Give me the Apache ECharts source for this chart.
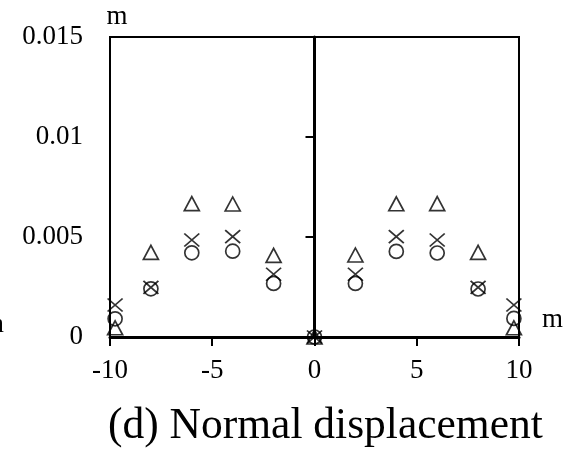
<!DOCTYPE html>
<html>
<head>
<meta charset="utf-8">
<script src="https://cdn.jsdelivr.net/npm/echarts@6/dist/echarts.min.js"></script>
<style>
  html, body { margin: 0; padding: 0; background: #fff; }
  #chart { width: 566px; height: 461px; }
</style>
</head>
<body>
<div id="chart"></div>
<script>
// Positions along the section (m)
var positions = [-9.75, -8, -6, -4, -2, 0, 2, 4, 6, 8, 9.75];
// Normal displacement (m) for the three cases
var triangleValues = [0.00046, 0.00423, 0.00667, 0.00665, 0.00408, 0, 0.00410, 0.00666, 0.00667, 0.00423, 0.00046];
var crossValues    = [0.00160, 0.00248, 0.00485, 0.00502, 0.00314, 0, 0.00314, 0.00502, 0.00485, 0.00248, 0.00160];
var circleValues   = [0.00091, 0.00241, 0.00421, 0.00429, 0.00268, 0, 0.00268, 0.00428, 0.00420, 0.00240, 0.00093];

var xTicks = { min: -10, max: 10, step: 5 };
var yTicks = { min: 0, max: 0.015, step: 0.005 };

var FONT = '"Liberation Serif", "Times New Roman", serif';

function pairs(vals) {
  return positions.map(function (x, i) { return [x, vals[i]]; });
}

var hollow = { color: 'rgba(0,0,0,0)', borderColor: '#000', borderWidth: 1.7 };

var chart = echarts.init(document.getElementById('chart'), null, { renderer: 'canvas' });
chart.setOption({
  animation: false,
  backgroundColor: '#fff',
  title: {
    text: '(d) Normal displacement',
    left: 108,
    top: 405,
    padding: 0,
    textStyle: { fontFamily: FONT, fontSize: 43.5, fontWeight: 'normal', color: '#000' }
  },
  grid: {
    left: 110, right: 45, top: 37, bottom: 124,
    containLabel: false,
    show: true, borderColor: '#000', borderWidth: 2, backgroundColor: 'transparent'
  },
  xAxis: {
    type: 'value',
    min: xTicks.min, max: xTicks.max, interval: xTicks.step,
    name: 'm',
    nameLocation: 'end',
    nameGap: 23,
    nameTextStyle: { fontFamily: FONT, fontSize: 27, color: '#000', verticalAlign: 'bottom', lineHeight: 27, padding: [0, 0, 4, 0] },
    axisLine: { show: true, onZero: true, lineStyle: { color: '#000', width: 3 } },
    axisTick: { show: true, length: 9, lineStyle: { color: '#000', width: 2 } },
    axisLabel: { fontFamily: FONT, fontSize: 27, color: '#000', margin: 20 },
    splitLine: { show: false }
  },
  yAxis: [
    {
      type: 'value',
      position: 'left',
      min: yTicks.min, max: yTicks.max, interval: yTicks.step,
      name: 'm',
      nameLocation: 'end',
      nameGap: 7,
      nameTextStyle: { fontFamily: FONT, fontSize: 27, color: '#000', padding: [0, 0, 0, 14] },
      axisLine: { show: true, onZero: false, lineStyle: { color: '#000', width: 2 } },
      axisTick: { show: false },
      axisLabel: { fontFamily: FONT, fontSize: 27, color: '#000', margin: 27 },
      splitLine: { show: false }
    },
    {
      type: 'value',
      position: 'right',
      min: yTicks.min, max: yTicks.max, interval: yTicks.step,
      axisLine: { show: true, onZero: true, lineStyle: { color: '#000', width: 3 } },
      axisTick: { show: true, inside: true, length: 9, lineStyle: { color: '#000', width: 2 } },
      axisLabel: { show: false },
      splitLine: { show: false }
    }
  ],
  graphic: [
    {
      type: 'text',
      left: -17,
      top: 311,
      style: { text: 'm', font: '27px ' + FONT, fill: '#000' }
    }
  ],
  series: [
    {
      type: 'scatter', name: 'triangle', data: pairs(triangleValues),
      symbol: 'triangle', symbolSize: [15, 14], itemStyle: hollow
    },
    {
      type: 'scatter', name: 'cross', data: pairs(crossValues),
      symbol: 'path://M0,0L10,10M10,0L0,10', symbolSize: [15, 13], itemStyle: hollow
    },
    {
      type: 'scatter', name: 'circle', data: pairs(circleValues),
      symbol: 'circle', symbolSize: 14, itemStyle: hollow
    }
  ]
});
</script>
</body>
</html>
